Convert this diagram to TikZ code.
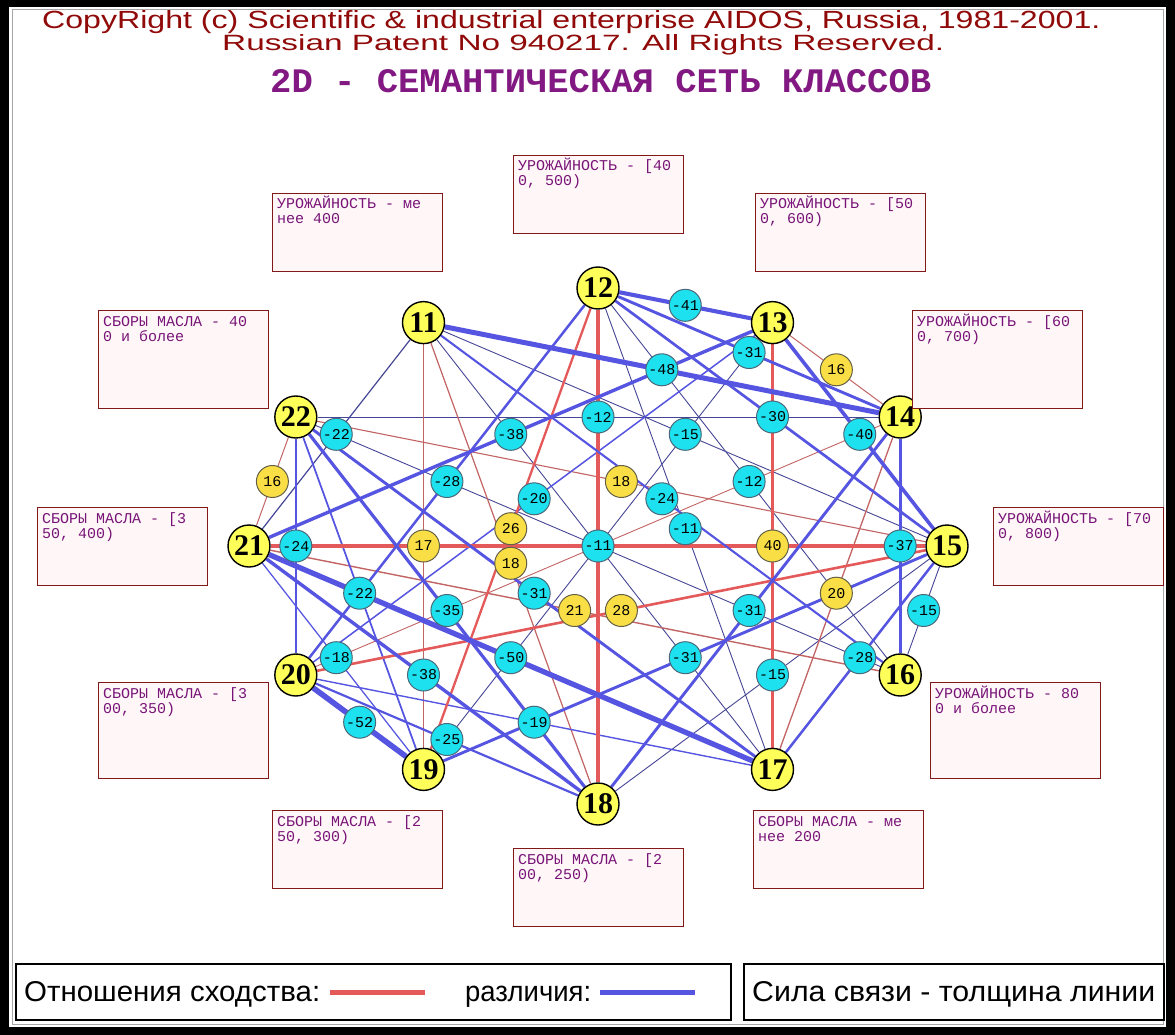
\documentclass[tikz,border=0pt]{standalone}
\usepackage{fontspec}
\usepackage{graphicx}
\setmainfont{Liberation Sans}
\newfontfamily\monof{Liberation Mono}
\newfontfamily\serf{Liberation Serif}
\usetikzlibrary{calc}
\pgfdeclarelayer{back}
\pgfdeclarelayer{bg}
\pgfsetlayers{back,bg,main}
\definecolor{copyred}{RGB}{145,10,10}
\definecolor{titlepurple}{RGB}{130,25,130}
\definecolor{boxred}{RGB}{130,25,25}
\definecolor{boxtext}{RGB}{120,20,120}
\definecolor{boxfill}{RGB}{255,247,247}
\definecolor{nodeyellow}{RGB}{255,255,90}
\definecolor{labcyan}{RGB}{30,225,240}
\definecolor{labyellow}{RGB}{250,222,70}
\definecolor{linered}{RGB}{228,90,90}
\definecolor{lineblue}{RGB}{85,85,225}
\definecolor{thinblue}{RGB}{70,70,150}
\definecolor{thinred}{RGB}{195,100,100}
\tikzset{
  cls/.style={circle, draw=black, line width=1.4pt, fill=nodeyellow, minimum size=42pt, inner sep=0pt, font=\serf\bfseries\fontsize{30}{30}\selectfont},
  labc/.style={circle, draw=black!60!cyan, line width=1pt, fill=labcyan, minimum size=32pt, inner sep=0pt, font=\monof\fontsize{15}{15}\selectfont},
  laby/.style={circle, draw=black!70!yellow, line width=1pt, fill=labyellow, minimum size=32pt, inner sep=0pt, font=\monof\fontsize{15}{15}\selectfont},
  infobox/.style={draw=boxred, line width=1pt, fill=boxfill, anchor=north west, minimum width=170pt, minimum height=78pt, inner sep=0pt},
  infotext/.style={anchor=base west, inner sep=0pt, text=boxtext, font=\monof\fontsize{15}{15}\selectfont},
  rl/.style={draw=linered},
  bl/.style={draw=lineblue},
  rt/.style={draw=thinred},
  bt/.style={draw=thinblue},
  legbox/.style={draw=black, line width=1.5pt, fill=white, anchor=north west, inner sep=0pt},
}
\begin{document}
\begin{tikzpicture}[x=1pt,y=-1pt]
\useasboundingbox (0,0) rectangle (1175,1035);
\begin{pgfonlayer}{back}
\fill[black] (0,0) rectangle (1175,1035);
\fill[white] (9,7) rectangle (1166,1027);
\draw[black!35, line width=1pt] (12,10) rectangle (1163,1024);
\end{pgfonlayer}

% titles
\node[anchor=base west, inner sep=0pt, text=copyred] (t1) at (42,29) {\resizebox{1058pt}{18pt}{CopyRight (c) Scientific \& industrial enterprise AIDOS, Russia, 1981-2001.}};
\node[anchor=base west, inner sep=0pt, text=copyred] (t2) at (222,51) {\resizebox{722pt}{16pt}{Russian Patent No 940217. All Rights Reserved.}};
\node[anchor=base west, inner sep=0pt, text=titlepurple] (t3) at (270,93) {\resizebox{661pt}{23pt}{\monof\bfseries 2D - СЕМАНТИЧЕСКАЯ СЕТЬ КЛАССОВ}};

% class nodes
\node[cls] (n12) at (598,288) {12};
\node[cls] (n13) at (772.5,322.6) {13};
\node[cls] (n14) at (900.2,417) {14};
\node[cls] (n15) at (947,546) {15};
\node[cls] (n16) at (900.2,675) {16};
\node[cls] (n17) at (772.5,769.4) {17};
\node[cls] (n18) at (598,804) {18};
\node[cls] (n19) at (423.5,769.4) {19};
\node[cls] (n20) at (295.8,675) {20};
\node[cls] (n21) at (249,546) {21};
\node[cls] (n22) at (295.8,417) {22};
\node[cls] (n11) at (423.5,322.6) {11};

% connectors
\begin{pgfonlayer}{bg}
\foreach \a/\b/\s/\w in {
  12/16/bt/0.9, 12/17/bt/0.9, 14/22/bt/1, 15/16/bt/0.9, 15/18/bt/0.9, 15/11/bt/0.9,
  11/17/bt/0.9, 16/22/bt/0.9, 13/19/bt/0.9, 21/11/bt/1.2,
  13/14/rt/1, 14/17/rt/1.3, 14/20/rt/0.9, 15/22/rt/1.1, 16/21/rt/1.4, 18/11/rt/1.2, 19/11/rt/1.1, 21/22/rt/1,
  17/20/bl/1.4, 19/21/bl/1.25, 19/22/bl/1.75, 13/20/bl/1.5,
  12/18/rl/3.3, 15/21/rl/3.3, 12/19/rl/2.3, 13/17/rl/3.8, 15/20/rl/2.6,
  12/13/bl/4.1, 12/14/bl/2.9, 12/15/bl/2.7, 12/20/bl/2.5, 13/15/bl/3.6, 13/21/bl/3.4,
  14/16/bl/3, 14/18/bl/2.9, 14/11/bl/5, 15/17/bl/2.5, 15/19/bl/2.9, 16/11/bl/2.1,
  17/21/bl/5.3, 17/22/bl/2.9, 18/20/bl/2.2, 18/21/bl/3.4, 18/22/bl/3.2, 19/20/bl/5.6, 20/22/bl/2.1}
  \draw[\s, line width=\w pt] (n\a) -- (n\b);
\end{pgfonlayer}

% connector labels
\foreach \a/\b/\s/\t in {
  12/13/labc/-41, 12/14/labc/-31, 12/15/labc/-30, 12/16/labc/-12, 12/17/labc/-11, 12/20/labc/-28,
  13/15/labc/-40, 13/20/labc/-20, 13/21/labc/-38, 14/16/labc/-37, 14/18/labc/-31, 14/22/labc/-12,
  14/11/labc/-48, 15/16/labc/-15, 15/17/labc/-28, 15/18/labc/-15, 15/19/labc/-31, 15/11/labc/-15,
  16/11/labc/-24, 17/20/labc/-19, 17/21/labc/-50, 17/22/labc/-31, 18/20/labc/-25, 18/21/labc/-38,
  18/22/labc/-35, 19/20/labc/-52, 19/21/labc/-18, 19/22/labc/-22, 20/22/labc/-24, 21/11/labc/-22,
  13/14/laby/16, 21/22/laby/16, 15/22/laby/18, 19/11/laby/17, 12/19/laby/26, 18/11/laby/18,
  16/21/laby/21, 15/20/laby/28, 13/17/laby/40, 14/17/laby/20, 11/17/labc/-11}
  \node[\s] at ($(n\a)!0.5!(n\b)$) {\t};

% info boxes
\node[infobox] (b11) at (272,193) {};
\node[infotext] at ($(b11.north west)+(5,16)$) {УРОЖАЙНОСТЬ - ме};
\node[infotext] at ($(b11.north west)+(5,31)$) {нее 400};
\node[infobox] (b12) at (513,155) {};
\node[infotext] at ($(b12.north west)+(5,16)$) {УРОЖАЙНОСТЬ - [40};
\node[infotext] at ($(b12.north west)+(5,31)$) {0, 500)};
\node[infobox] (b13) at (755,193) {};
\node[infotext] at ($(b13.north west)+(5,16)$) {УРОЖАЙНОСТЬ - [50};
\node[infotext] at ($(b13.north west)+(5,31)$) {0, 600)};
\node[infobox, minimum height=98pt] (b14) at (912,310) {};
\node[infotext] at ($(b14.north west)+(5,16)$) {УРОЖАЙНОСТЬ - [60};
\node[infotext] at ($(b14.north west)+(5,31)$) {0, 700)};
\node[infobox] (b15) at (993,507) {};
\node[infotext] at ($(b15.north west)+(5,16)$) {УРОЖАЙНОСТЬ - [70};
\node[infotext] at ($(b15.north west)+(5,31)$) {0, 800)};
\node[infobox, minimum height=96pt] (b16) at (930,682) {};
\node[infotext] at ($(b16.north west)+(5,16)$) {УРОЖАЙНОСТЬ - 80};
\node[infotext] at ($(b16.north west)+(5,31)$) {0 и более};
\node[infobox] (b17) at (753,810) {};
\node[infotext] at ($(b17.north west)+(5,16)$) {СБОРЫ МАСЛА - ме};
\node[infotext] at ($(b17.north west)+(5,31)$) {нее 200};
\node[infobox] (b18) at (513,848) {};
\node[infotext] at ($(b18.north west)+(5,16)$) {СБОРЫ МАСЛА - [2};
\node[infotext] at ($(b18.north west)+(5,31)$) {00, 250)};
\node[infobox] (b19) at (272,810) {};
\node[infotext] at ($(b19.north west)+(5,16)$) {СБОРЫ МАСЛА - [2};
\node[infotext] at ($(b19.north west)+(5,31)$) {50, 300)};
\node[infobox, minimum height=96pt] (b20) at (98,682) {};
\node[infotext] at ($(b20.north west)+(5,16)$) {СБОРЫ МАСЛА - [3};
\node[infotext] at ($(b20.north west)+(5,31)$) {00, 350)};
\node[infobox] (b21) at (37,507) {};
\node[infotext] at ($(b21.north west)+(5,16)$) {СБОРЫ МАСЛА - [3};
\node[infotext] at ($(b21.north west)+(5,31)$) {50, 400)};
\node[infobox, minimum height=98pt] (b22) at (98,310) {};
\node[infotext] at ($(b22.north west)+(5,16)$) {СБОРЫ МАСЛА - 40};
\node[infotext] at ($(b22.north west)+(5,31)$) {0 и более};

% legend
\node[legbox, minimum width=715pt, minimum height=56pt] (lg1) at (15,963) {};
\node[legbox, minimum width=420pt, minimum height=56pt] (lg2) at (743,963) {};
\node[anchor=base west, inner sep=0pt] (lt1) at (24,1001) {\resizebox{296pt}{20pt}{\vphantom{О}Отношения сходства:}};
\coordinate (rs) at (330,992);
\coordinate (re) at (425,992);
\draw[linered, line width=5pt] (rs) -- (re);
\node[anchor=base west, inner sep=0pt] (lt2) at (465,1001) {\resizebox{126pt}{20pt}{\vphantom{О}различия:}};
\coordinate (bs) at (600,992);
\coordinate (be) at (695,992);
\draw[lineblue, line width=5pt] (bs) -- (be);
\node[anchor=base west, inner sep=0pt] (lt3) at (752,1001) {\resizebox{403pt}{20pt}{\vphantom{О}Сила связи - толщина линии}};
\end{tikzpicture}
\end{document}
